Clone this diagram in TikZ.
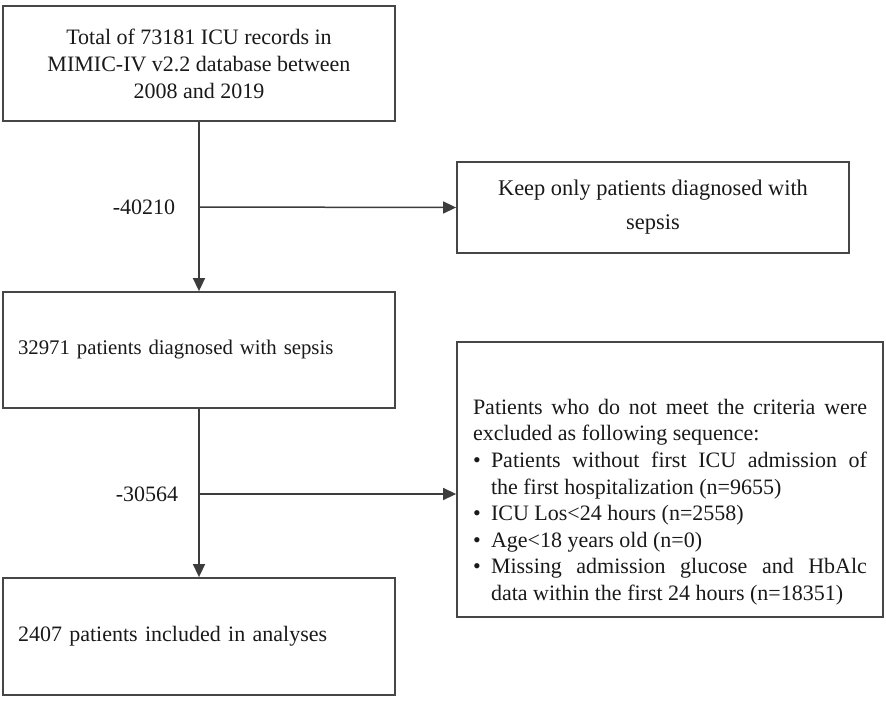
\documentclass[tikz,border=0pt]{standalone}
\usepackage{fontspec}
\setmainfont{Liberation Serif}
\usetikzlibrary{arrows.meta}
\definecolor{boxgray}{RGB}{70,70,70}
\definecolor{linegray}{RGB}{60,60,60}
\begin{document}
\begin{tikzpicture}[x=1pt,y=-1pt,
  box/.style={draw=boxgray, line width=1.8pt, rectangle, inner sep=0pt,
    font=\fontsize{22}{27}\selectfont, text=black!90},
  conn/.style={draw=linegray, line width=1.5pt, -{Triangle[length=13pt,width=12pt]}},
  lbl/.style={font=\fontsize{22}{25}\selectfont, text=black!90}]
\useasboundingbox (0,0) rectangle (886,702);
\node[box, minimum width=392pt, minimum height=115pt, align=center] (b1) at (199,63.5)
  {Total of 73181 ICU records in\\MIMIC-IV v2.2 database between\\2008 and 2019};
\node[box, minimum width=392pt, minimum height=91pt, align=center,
  font=\fontsize{22.4}{34}\selectfont] (b2) at (653,207.5)
  {Keep only patients diagnosed with\\sepsis};
\node[box, text width=362pt, inner xsep=15pt, minimum height=116pt, align=left,
  font=\fontsize{20.8}{25}\selectfont] (b3) at (199,350)
  {32971 patients diagnosed with sepsis};
\node[box, inner xsep=16pt, minimum height=275pt] (b4) at (670,479.5)
  {\begin{minipage}[c][275pt][t]{394pt}%
   \fontsize{22}{26.6}\selectfont
   \setlength{\parindent}{0pt}\setlength{\parskip}{0pt}%
   \vspace*{57pt}%
   Patients who do not meet the criteria were\linebreak excluded as following sequence:\par
   \hangindent=18pt\hangafter=1\makebox[18pt][l]{\textbullet}Patients without first ICU admission of\linebreak the first hospitalization (n=9655)\par
   \hangindent=18pt\hangafter=1\makebox[18pt][l]{\textbullet}ICU Los<24 hours (n=2558)\par
   \hangindent=18pt\hangafter=1\makebox[18pt][l]{\textbullet}Age<18 years old (n=0)\par
   \hangindent=18pt\hangafter=1\makebox[18pt][l]{\textbullet}Missing admission glucose and HbAlc\linebreak data within the first 24 hours (n=18351)\par
   \end{minipage}};
\node[box, text width=362pt, inner xsep=15pt, minimum height=117pt, align=left] (b5) at (199,636.5)
  {2407 patients included in analyses};
\coordinate (c1) at (199,207);
\coordinate (c2) at (199,494);
\draw[conn] (b1.south) -- (b3.north);
\draw[conn] (b3.south) -- (b5.north);
\draw[conn] (c1) -- (b2.west);
\draw[conn] (c2) -- (c2 -| b4.west);
\node[lbl] (l1) at (144,207) {-40210};
\node[lbl] (l2) at (147,494) {-30564};
\end{tikzpicture}
\end{document}
